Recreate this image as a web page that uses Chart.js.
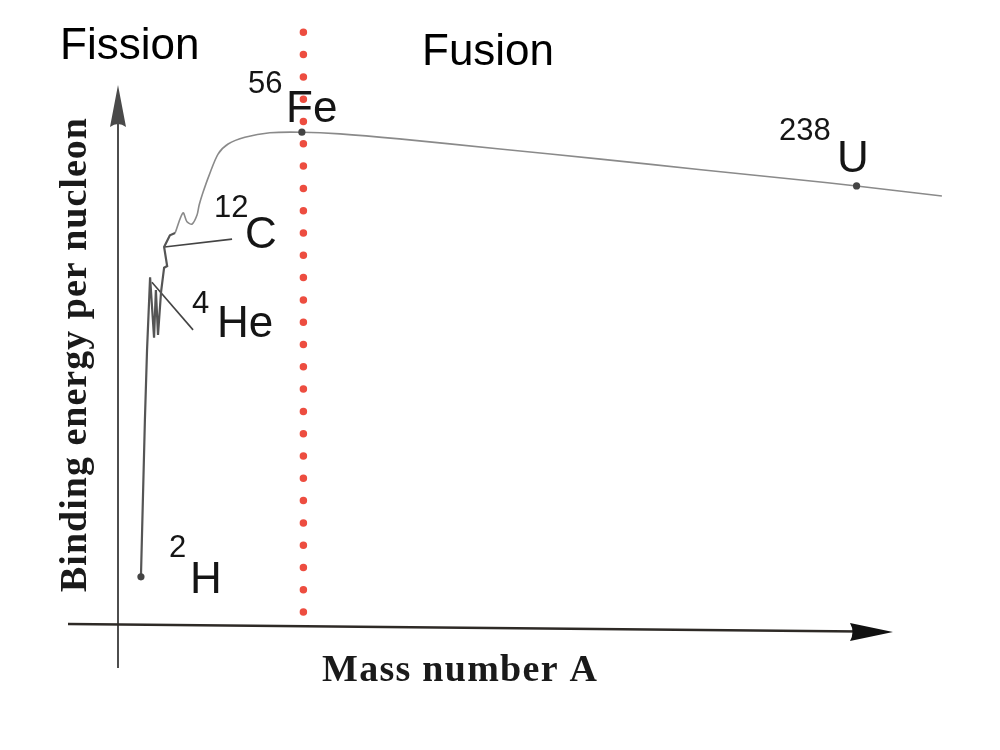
<!DOCTYPE html>
<html><head><meta charset="utf-8">
<script src="https://cdn.jsdelivr.net/npm/chart.js@4.4.1/dist/chart.umd.min.js"></script>
<style>html,body{margin:0;padding:0;background:#fff;}canvas{display:block;}</style>
</head><body>
<canvas id="c" width="1000" height="750"></canvas>
<script>
// ---- data (mass number A, binding energy per nucleon, stylised) ----
const lightMass   = [3.2, 4.5, 5.2, 6.2, 7.5, 8.1, 8.8, 9.8, 10.8, 11.8, 10.8, 12.7, 14.4];
const lightEnergy = [0.86, 3.66, 4.91, 6.21, 5.13, 5.98, 5.18, 5.95, 6.38, 6.41, 6.75, 6.96, 7.0];
const curveMass   = [14.4, 17.0, 18.3, 20.0, 21.6, 22.3, 23.6, 25.5, 28.5, 31.8, 37.3, 45.5, 56, 68.5, 88, 121, 154, 187, 219, 238, 266];
const curveEnergy = [7.0, 7.36, 7.20, 7.16, 7.32, 7.5, 7.73, 8.02, 8.41, 8.59, 8.71, 8.79, 8.80, 8.77, 8.68, 8.5, 8.32, 8.13, 7.95, 7.84, 7.66];
const nuclideMass   = [3.2, 56, 238];
const nuclideEnergy = [0.86, 8.80, 7.84];
const pointerCMass    = [10.9, 33.1];
const pointerCEnergy  = [6.75, 6.89];
const pointerHeMass   = [6.8, 20.3];
const pointerHeEnergy = [6.12, 5.27];
const dividerMass   = [56.5, 56.5];
const dividerEnergy = [0.23, 10.98];
const regionLabels  = ['Fission', 'Fusion'];
const nuclideLabels = [['56','Fe'], ['238','U'], ['12','C'], ['4','He'], ['2','H']];
const xTitle = 'Mass number A';
const yTitle = 'Binding energy per nucleon';

const pts = (xs, ys) => xs.map((x, i) => ({x, y: ys[i]}));

const annot = {
  id: 'annot',
  beforeDatasetsDraw(chart) {
    const {ctx} = chart;
    ctx.save();
    // y axis
    ctx.strokeStyle = '#3a3a3a'; ctx.lineWidth = 1.8;
    ctx.beginPath(); ctx.moveTo(118, 668); ctx.lineTo(118, 120); ctx.stroke();
    ctx.fillStyle = '#4a4a4a';
    ctx.beginPath(); ctx.moveTo(118, 85); ctx.lineTo(126, 127); ctx.quadraticCurveTo(118, 121, 110, 127); ctx.closePath(); ctx.fill();
    // x axis
    ctx.strokeStyle = '#2e2a26'; ctx.lineWidth = 2.6;
    ctx.beginPath(); ctx.moveTo(68, 624); ctx.lineTo(860, 631.5); ctx.stroke();
    ctx.fillStyle = '#111';
    ctx.beginPath(); ctx.moveTo(893, 632); ctx.lineTo(850, 623); ctx.quadraticCurveTo(855, 632, 850, 641); ctx.closePath(); ctx.fill();

    // texts
    ctx.fillStyle = '#000';
    ctx.textBaseline = 'alphabetic'; ctx.textAlign = 'left';
    ctx.font = '44px "Liberation Sans", Arial, sans-serif';
    ctx.fillText(regionLabels[0], 60, 59);
    ctx.fillText(regionLabels[1], 422, 65);
    const pos = [[248, 93, 286, 122], [779, 140, 837, 172], [214, 217, 245, 248], [192, 313, 217, 337], [169, 557, 190, 593]];
    ctx.fillStyle = '#151515';
    nuclideLabels.forEach((l, i) => {
      const p = pos[i];
      ctx.font = '31px "Liberation Sans", Arial, sans-serif';
      ctx.fillText(l[0], p[0], p[1]);
      ctx.font = '44px "Liberation Sans", Arial, sans-serif';
      ctx.fillText(l[1], p[2], p[3]);
    });
    // axis titles (serif bold), letter spacing to reach reference length
    const drawSpaced = (txt, x, y, target) => {
      ctx.letterSpacing = '0px';
      const w = ctx.measureText(txt).width;
      const sp = Math.max(0, (target - w) / (txt.length - 1));
      ctx.letterSpacing = sp.toFixed(2) + 'px';
      ctx.fillText(txt, x, y);
      ctx.letterSpacing = '0px';
    };
    ctx.fillStyle = '#1a1a1a';
    ctx.font = 'bold 38px "Liberation Serif", "Times New Roman", serif';
    drawSpaced(xTitle, 322, 681, 275);
    ctx.save();
    ctx.translate(86, 592); ctx.rotate(-Math.PI / 2);
    drawSpaced(yTitle, 0, 0, 474);
    ctx.restore();
    ctx.restore();
  }
};

new Chart(document.getElementById('c'), {
  type: 'scatter',
  data: {
    datasets: [
      { label: 'divider', data: pts(dividerMass, dividerEnergy), showLine: true,
        borderColor: 'rgba(236,62,48,0.92)', borderWidth: 7.5, borderDash: [0, 22.3], borderCapStyle: 'round',
        pointRadius: 0, clip: false },
      { label: 'nuclides', data: pts(nuclideMass, nuclideEnergy), pointRadius: 3.6,
        backgroundColor: '#444', borderColor: '#444', borderWidth: 0 },
      { label: 'light', data: pts(lightMass, lightEnergy), showLine: true, borderColor: '#555', borderWidth: 2.2,
        pointRadius: 0, tension: 0 },
      { label: 'curve', data: pts(curveMass, curveEnergy), showLine: true, borderColor: '#8a8a8a', borderWidth: 1.6,
        pointRadius: 0, tension: 0.3 },
      { label: 'pC', data: pts(pointerCMass, pointerCEnergy), showLine: true, borderColor: '#444', borderWidth: 1.6, pointRadius: 0 },
      { label: 'pHe', data: pts(pointerHeMass, pointerHeEnergy), showLine: true, borderColor: '#444', borderWidth: 1.6, pointRadius: 0 }
    ]
  },
  options: {
    responsive: false, animation: false,
    layout: { padding: { left: 119, right: 52, top: 9, bottom: 125 } },
    plugins: { legend: { display: false }, tooltip: { enabled: false } },
    scales: {
      x: { type: 'linear', min: -4, max: 268, display: false },
      y: { type: 'linear', min: 0, max: 11, display: false }
    }
  },
  plugins: [annot]
});
</script>
</body></html>
